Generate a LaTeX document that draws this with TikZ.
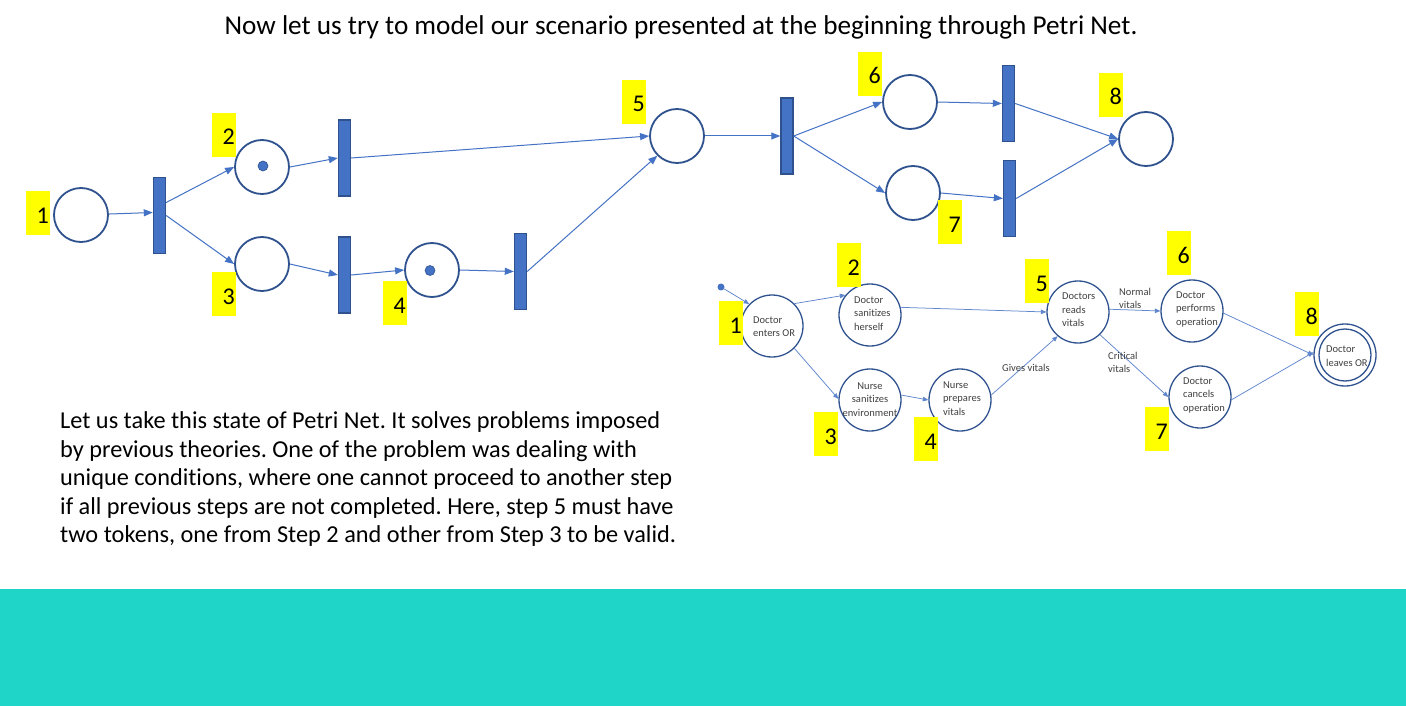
\documentclass[tikz,border=0pt]{standalone}
\usepackage{fontspec}
\setmainfont{Carlito}[Ligatures=NoCommon]
\usetikzlibrary{arrows.meta,calc}
\definecolor{netblue}{HTML}{4472C4}
\definecolor{netdark}{HTML}{2F528F}
\definecolor{bandteal}{RGB}{31,213,200}
\definecolor{tagyellow}{HTML}{FFFF00}
\definecolor{txtgray}{HTML}{404040}
\frenchspacing
% yellow step tag: name, left, top, digit
\newcommand\numtag[4]{%
  \node[tag] (#1) at (#2,#3) {};
  \node[tagnum] (#1n) at (#2+23,#3+32) {#4};}
\begin{document}
\begin{tikzpicture}[x=1pt,y=-1pt,
  place/.style={circle,draw=netdark,line width=1.8pt,fill=white,minimum size=54pt,inner sep=0pt},
  trans/.style={rectangle,draw=netdark,line width=1.4pt,fill=netblue,minimum width=12pt,minimum height=76pt,inner sep=0pt},
  token/.style={circle,fill=netblue,draw=netdark,line width=0.6pt,minimum size=10pt,inner sep=0pt},
  arc/.style={draw=netblue,line width=1pt,-{Triangle[length=9pt,width=7pt]}},
  state/.style={circle,draw=netdark,line width=1.3pt,fill=white,minimum size=62pt,inner sep=0pt},
  flow/.style={draw=netblue!85,line width=0.75pt,-{Triangle[length=5.5pt,width=4.5pt]}},
  stext/.style={anchor=west,align=left,inner sep=0pt,text=txtgray,font=\fontsize{10.5}{13.5}\selectfont},
  tag/.style={fill=tagyellow,draw=none,minimum width=24pt,minimum height=44pt,inner sep=0pt,anchor=north west},
  tagnum/.style={anchor=base east,inner sep=0pt,font=\fontsize{24}{28}\selectfont},
  para/.style={anchor=base west,inner sep=0pt,font=\fontsize{24.3}{29}\selectfont},
]
\useasboundingbox (0,0) rectangle (1406,706);
\fill[white] (0,0) rectangle (1406,706);
\fill[bandteal] (0,589) rectangle (1406,706);

% heading
\node[anchor=base,inner sep=0pt,font=\fontsize{27.2}{32}\selectfont] (title) at (681,35)
  {Now let us try to model our scenario presented at the beginning through Petri Net.};

% ---------- Petri net ----------
\node[place] (p1) at (81,215) {};
\node[trans] (t1) at (159.5,215.5) {};
\node[place] (p2) at (262,167) {};
\node[place] (p3) at (262,264) {};
\node[trans] (t2) at (344.5,158) {};
\node[trans] (t3) at (344.5,275) {};
\node[place] (p4) at (432,270) {};
\node[trans] (t4) at (520.5,271.5) {};
\node[place] (p5) at (677,136) {};
\node[trans] (t5) at (787,136) {};
\node[place] (p6) at (910,102) {};
\node[place] (p7) at (913,193) {};
\node[trans] (t6) at (1008.5,103.5) {};
\node[trans] (t7) at (1009.5,198.5) {};
\node[place] (p8) at (1146,139) {};
\node[token] (k2) at (263,166) {};
\node[token] (k4) at (430,270.5) {};

\draw[arc] (p1) -- ([yshift=3pt]t1.west);
\draw[arc] ([yshift=13pt]t1.east) -- (p2.west);
\draw[arc] (t1.east) -- (p3.west);
\draw[arc] (p2.east) -- (t2.west);
\draw[arc] (p3.east) -- (t3.west);
\draw[arc] (t3.east) -- (p4.west);
\draw[arc] (t2.east) -- (p5.west);
\draw[arc] (p4.east) -- (t4.west);
\draw[arc] (t4.east) -- (p5.225);
\draw[arc] (p5.east) -- (t5.west);
\draw[arc] (t5.east) -- (p6.west);
\draw[arc] (t5.east) -- (p7.west);
\draw[arc] (p6.east) -- (t6.west);
\draw[arc] (p7.east) -- (t7.west);
\draw[arc] (t6.east) -- (p8.west);
\draw[arc] (t7.east) -- (p8.west);

\numtag{a1}{26}{191}{1}
\numtag{a2}{212}{113}{2}
\numtag{a3}{212}{272}{3}
\numtag{a4}{383}{281}{4}
\numtag{a5}{622}{80}{5}
\numtag{a6}{858}{52}{6}
\numtag{a7}{938}{200}{7}
\numtag{a8}{1099}{73}{8}

% ---------- state diagram ----------
\node[circle,fill=netblue,minimum size=7pt,inner sep=0pt] (start) at (721,287) {};
\node[state] (s1) at (772,326) {};
\node[state] (s2) at (870,315) {};
\node[state] (s3) at (870,400) {};
\node[state] (s4) at (960,400) {};
\node[state] (s5) at (1078,312) {};
\node[state] (s6) at (1192,311) {};
\node[state] (s7) at (1200,397) {};
\node[state] (s8) at (1345,355) {};
\node[state,minimum size=52pt] (s8in) at (1345,355) {};

\node[stext] (s1t) at (753,326.5) {Doctor\\enters OR};
\node[stext] (s2t) at (854,313.5) {Doctor\\sanitizes\\herself};
\node[stext,anchor=center,align=center] (s3t) at (870,399.5) {Nurse\\sanitizes\\environment};
\node[stext] (s4t) at (943,398.5) {Nurse\\prepares\\vitals};
\node[stext] (s5t) at (1062,310) {Doctors\\reads\\vitals};
\node[stext] (s6t) at (1176,309) {Doctor\\performs\\operation};
\node[stext] (s7t) at (1183,395) {Doctor\\cancels\\operation};
\node[stext] (s8t) at (1326,356) {Doctor\\leaves OR};

\draw[flow] (start) -- (s1.136);
\draw[flow] (s1.45) -- (s2.141);
\draw[flow] (s1.-45) -- (s3.178);
\draw[flow] (s2.14) -- (s5.west);
\draw[flow] (s3.9) -- (s4.west);
\draw[flow] (s4.9) -- (s5.230);
\draw[flow] (s5.5) -- (s6.west);
\draw[flow] (s5.-46) -- (s7.west);
\draw[flow] (s6.-4) -- (s8.west);
\draw[flow] (s7.-5) -- (s8.175);

\node[stext] (lg) at (1002,368) {Gives vitals};
\node[stext] (ln) at (1119,298.5) {Normal\\vitals};
\node[stext] (lc) at (1108,362.5) {Critical\\vitals};

\numtag{b1}{719}{301}{1}
\numtag{b2}{837}{243}{2}
\numtag{b3}{814}{412}{3}
\numtag{b4}{914}{417}{4}
\numtag{b5}{1025}{259}{5}
\numtag{b6}{1167}{231}{6}
\numtag{b7}{1145}{407}{7}
\numtag{b8}{1295}{292}{8}

% ---------- explanation ----------
\node[para] (para1) at (60,428) {Let us take this state of Petri Net. It solves problems imposed};
\node[para] (para2) at (60,457) {by previous theories. One of the problem was dealing with};
\node[para] (para3) at (60,485) {unique conditions, where one cannot proceed to another step};
\node[para] (para4) at (60,514) {if all previous steps are not completed. Here, step 5 must have};
\node[para] (para5) at (60,542) {two tokens, one from Step 2 and other from Step 3 to be valid.};
\end{tikzpicture}
\end{document}
